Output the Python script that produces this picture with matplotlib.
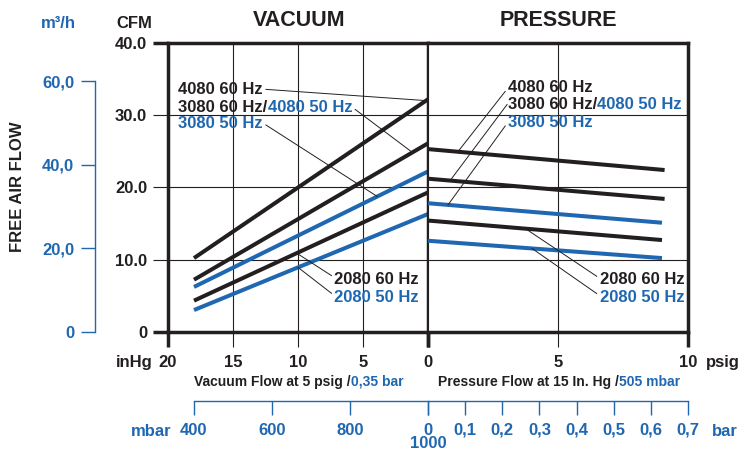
import numpy as np
import matplotlib
matplotlib.use('Agg')
import matplotlib.pyplot as plt

BLACK = '#231f20'
BLUE = '#1f67b1'

# unit conversions as drawn on the chart
M3H_PER_CFM = 1.73
MBAR_PER_INHG = 33.3
BAR_PER_PSI = 0.07

# vacuum side: x in inHg, flow in CFM
vac_inhg = [18, 0]
vac_4080_60 = [10.2, 32.2]
vac_3080_60 = [7.2, 26.1]
vac_3080_50 = [6.2, 22.2]
vac_2080_60 = [4.3, 19.3]
vac_2080_50 = [3.0, 16.3]

# pressure side: x in psig, flow in CFM
prs_psig_60 = [0, 9.1]
prs_psig_50 = [0, 9.0]
prs_4080_60 = [25.3, 22.4]
prs_3080_60 = [21.2, 18.4]
prs_3080_50 = [17.8, 15.1]
prs_2080_60 = [15.4, 12.7]
prs_2080_50 = [12.6, 10.2]

cfm_ticks = [0, 10, 20, 30, 40]
cfm_labels = ['0', '10.0', '20.0', '30.0', '40.0']
m3h_ticks = [0, 20, 40, 60]
m3h_labels = ['0', '20,0', '40,0', '60,0']
inhg_ticks = [20, 15, 10, 5, 0]
psig_ticks = [0, 5, 10]
mbar_ticks = [400, 600, 800, 1000]
mbar_labels = ['400', '600', '800', '']
bar_ticks = [0, 0.1, 0.2, 0.3, 0.4, 0.5, 0.6, 0.7]
bar_labels = ['0', '0,1', '0,2', '0,3', '0,4', '0,5', '0,6', '0,7']

plt.rcParams['font.family'] = ['Liberation Sans', 'DejaVu Sans']
plt.rcParams['font.weight'] = 'bold'
plt.rcParams['text.color'] = BLACK

W, H = 744, 453


def fx(px):
    return px / W


def fy(py):
    return 1 - py / H


left, mid, right = 168, 428, 688
top, bottom = 43, 331.7
fig = plt.figure(figsize=(W / 100, H / 100), dpi=100)
ax_v = fig.add_axes([fx(left), fy(bottom), (mid - left) / W, (bottom - top) / H])
ax_p = fig.add_axes([fx(mid), fy(bottom), (right - mid) / W, (bottom - top) / H])

for ax in (ax_v, ax_p):
    ax.set_ylim(0, 40)
    ax.set_yticks(cfm_ticks)
    ax.grid(True, color=BLACK, lw=0.8)
    ax.set_axisbelow(True)
    for s in ax.spines.values():
        s.set_linewidth(2.5)
        s.set_color(BLACK)
        s.set_capstyle('projecting')
    ax.tick_params(axis='x', direction='out', length=10.5, width=0.8, pad=6.5,
                   labelsize=12, colors=BLACK)

ax_v.set_xlim(20, 0)
ax_v.set_xticks(inhg_ticks)
ax_v.set_xticklabels([str(t) for t in inhg_ticks])
ax_v.set_yticklabels(cfm_labels)
ax_v.tick_params(axis='y', direction='out', length=11, width=0.8, pad=4,
                 labelsize=12, colors=BLACK)
ax_p.set_xlim(0, 10)
ax_p.set_xticks(psig_ticks)
ax_p.set_xticklabels(['', '5', '10'])
ax_p.tick_params(axis='y', left=False, labelleft=False)
ax_p.spines['left'].set_visible(False)

# heavier ticks at the frame lines
for i in (0, 4):
    ax_v.xaxis.get_major_ticks()[i].tick1line.set_markeredgewidth(2.5)
    ax_v.yaxis.get_major_ticks()[i].tick1line.set_markeredgewidth(2.5)
for i in (0, 2):
    ax_p.xaxis.get_major_ticks()[i].tick1line.set_markeredgewidth(2.5)

line_kw = dict(lw=2.9, solid_capstyle='butt')
ax_v.plot(vac_inhg, vac_4080_60, color=BLACK, **line_kw)
ax_v.plot(vac_inhg, vac_3080_60, color=BLACK, **line_kw)
ax_v.plot(vac_inhg, vac_3080_50, color=BLUE, **line_kw)
ax_v.plot(vac_inhg, vac_2080_60, color=BLACK, **line_kw)
ax_v.plot(vac_inhg, vac_2080_50, color=BLUE, **line_kw)
ax_p.plot(prs_psig_60, prs_4080_60, color=BLACK, **line_kw)
ax_p.plot(prs_psig_60, prs_3080_60, color=BLACK, **line_kw)
ax_p.plot(prs_psig_50, prs_3080_50, color=BLUE, **line_kw)
ax_p.plot(prs_psig_50, prs_2080_60, color=BLACK, **line_kw)
ax_p.plot(prs_psig_50, prs_2080_50, color=BLUE, **line_kw)


def on_vac(x, ys):
    return (x, np.interp(x, vac_inhg[::-1], ys[::-1]))


def on_prs(x, xs, ys):
    return (x, np.interp(x, xs, ys))


def leader(rel=(0.5, 0.5)):
    return dict(arrowstyle='-', lw=0.7, color=BLACK, shrinkA=0, shrinkB=0, relpos=rel)


lab = dict(fontsize=12, ha='left', va='center')

# vacuum side labels
ax_v.annotate('4080 60 Hz', xy=on_vac(0.15, vac_4080_60), xytext=(19.2, 33.5),
              color=BLACK, arrowprops=leader((1, 0.55)), **lab)
t = ax_v.text(19.2, 31.1, '3080 60 Hz/', color=BLACK, **lab)
ax_v.annotate('4080 50 Hz', xy=on_vac(1.2, vac_3080_60), xytext=(1, 0.5), textcoords=t,
              color=BLUE, arrowprops=leader((1, 0.5)), **lab)
ax_v.annotate('3080 50 Hz', xy=on_vac(3.9, vac_3080_50), xytext=(19.2, 28.9),
              color=BLUE, arrowprops=leader((1, 0.5)), **lab)
ax_v.annotate('2080 60 Hz', xy=on_vac(10.1, vac_2080_60), xytext=(7.2, 7.3),
              color=BLACK, arrowprops=leader((0, 0.6)), **lab)
ax_v.annotate('2080 50 Hz', xy=on_vac(10.0, vac_2080_50), xytext=(7.2, 4.8),
              color=BLUE, arrowprops=leader((0, 0.6)), **lab)

# pressure side labels
ax_p.annotate('4080 60 Hz', xy=on_prs(1.15, prs_psig_60, prs_4080_60), xytext=(3.08, 33.8),
              color=BLACK, arrowprops=leader((0, 0.5)), **lab)
t = ax_p.text(3.08, 31.5, '3080 60 Hz/', color=BLACK, **lab)
ax_p.annotate('', xy=on_prs(0.85, prs_psig_60, prs_3080_60), xytext=(-0.01, 0.5),
              textcoords=t, arrowprops=leader())
ax_p.annotate('4080 50 Hz', xy=(1, 0.5), xycoords=t, color=BLUE, **lab)
ax_p.annotate('3080 50 Hz', xy=on_prs(0.77, prs_psig_50, prs_3080_50), xytext=(3.08, 29.05),
              color=BLUE, arrowprops=leader((0, 0.5)), **lab)
ax_p.annotate('2080 60 Hz', xy=on_prs(3.75, prs_psig_50, prs_2080_60), xytext=(6.6, 7.2),
              color=BLACK, arrowprops=leader((0, 0.6)), **lab)
ax_p.annotate('2080 50 Hz', xy=on_prs(4.0, prs_psig_50, prs_2080_50), xytext=(6.6, 4.8),
              color=BLUE, arrowprops=leader((0, 0.6)), **lab)

# m3/h scale
ax_m = fig.add_axes([fx(95), fy(bottom), 0.0001, (bottom - top) / H])
ax_m.set_ylim(0, 40 * M3H_PER_CFM)
ax_m.patch.set_visible(False)
for k in ('top', 'right', 'bottom'):
    ax_m.spines[k].set_visible(False)
ax_m.spines['left'].set_color(BLUE)
ax_m.spines['left'].set_linewidth(1.0)
ax_m.spines['left'].set_bounds(0, 60)
ax_m.set_xticks([])
ax_m.set_yticks(m3h_ticks)
ax_m.set_yticklabels(m3h_labels)
ax_m.tick_params(axis='y', direction='out', length=10, width=1.0, pad=5,
                 labelsize=12, colors=BLUE)

# mbar / bar scale
ax_mb = fig.add_axes([fx(left), fy(401), (mid - left) / W, 0.0001])
ax_b = fig.add_axes([fx(mid), fy(401), (right - mid) / W, 0.0001])
ax_mb.set_xlim(1000 - 20 * MBAR_PER_INHG, 1000)
ax_mb.set_xticks(mbar_ticks)
ax_mb.set_xticklabels(mbar_labels)
ax_mb.spines['bottom'].set_bounds(400, 1000)
ax_b.set_xlim(0, 10 * BAR_PER_PSI)
ax_b.set_xticks(bar_ticks)
ax_b.set_xticklabels(bar_labels)
ax_b.spines['bottom'].set_bounds(0, 0.7)
for ax in (ax_mb, ax_b):
    ax.patch.set_visible(False)
    for k in ('top', 'right', 'left'):
        ax.spines[k].set_visible(False)
    ax.spines['bottom'].set_color(BLUE)
    ax.spines['bottom'].set_linewidth(1.0)
    ax.set_yticks([])
    ax.tick_params(axis='x', direction='out', length=10, width=1.0, pad=5.5,
                   labelsize=12, colors=BLUE)

# titles and unit labels
fig.text(fx(299), fy(20), 'VACUUM', fontsize=15.5, ha='center', va='center')
fig.text(fx(558), fy(20), 'PRESSURE', fontsize=15.5, ha='center', va='center')
fig.text(fx(134), fy(24), 'CFM', fontsize=12, ha='center', va='center')
fig.text(fx(58), fy(24), 'm³/h', fontsize=12, ha='center', va='center', color=BLUE)
fig.text(fx(18), fy(187), 'FREE AIR FLOW', fontsize=12, rotation=90,
         ha='center', va='center')
fig.text(fx(153), fy(362), 'inHg', fontsize=12, ha='right', va='center')
fig.text(fx(706), fy(362), 'psig', fontsize=12, ha='left', va='center')
fig.text(fx(171), fy(431), 'mbar', fontsize=12, ha='right', va='center', color=BLUE)
fig.text(fx(712), fy(431), 'bar', fontsize=12, ha='left', va='center', color=BLUE)
fig.text(fx(428), fy(444), '1000', fontsize=12, ha='center', va='center', color=BLUE)

small = dict(fontsize=10, ha='left', va='center')
t = fig.text(fx(194), fy(382), 'Vacuum Flow at 5 psig /', **small)
ax_v.annotate('0,35 bar', xy=(1, 0.5), xycoords=t, color=BLUE, **small)
t = fig.text(fx(438), fy(382), 'Pressure Flow at 15 In. Hg /', **small)
ax_p.annotate('505 mbar', xy=(1, 0.5), xycoords=t, color=BLUE, **small)

fig.savefig('out.png', dpi=100)
